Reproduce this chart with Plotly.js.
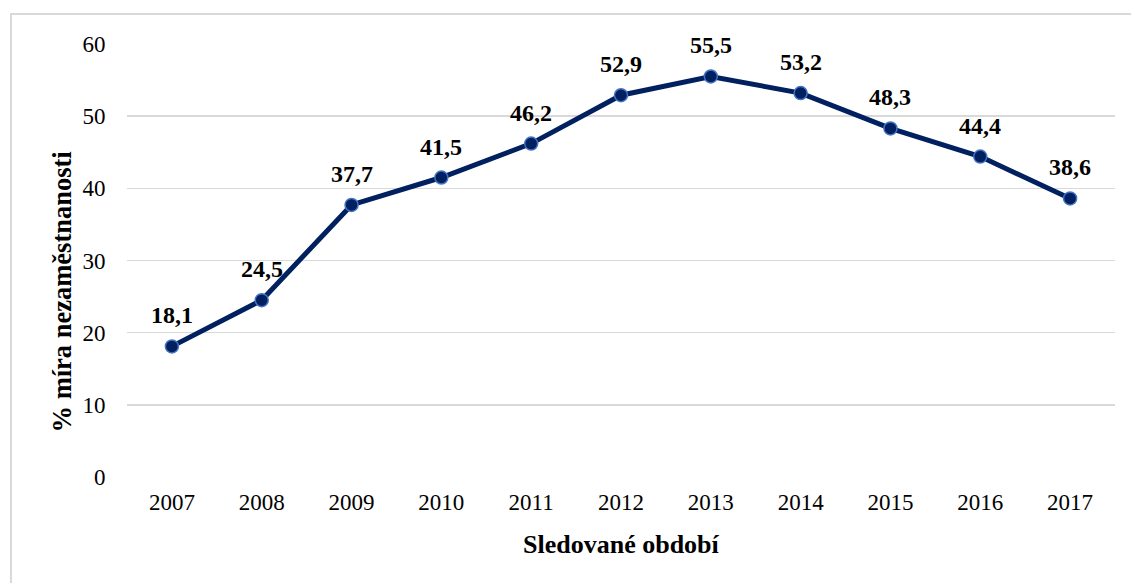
<!DOCTYPE html>
<html>
<head>
<meta charset="utf-8">
<script src="https://cdn.plot.ly/plotly-3.0.1.min.js"></script>
<style>
html,body{margin:0;padding:0;background:#fff;}
#wrap{position:relative;width:1131px;height:583px;overflow:hidden;}
#chart{position:absolute;left:0;top:0;width:1131px;height:583px;}
#frame{position:absolute;left:10px;top:13px;width:1200px;height:700px;border-left:2px solid #d9d9d9;border-top:2px solid #d9d9d9;pointer-events:none;}
</style>
</head>
<body>
<div id="wrap"><div id="chart"></div><div id="frame"></div></div>
<script>
const years = ['2007','2008','2009','2010','2011','2012','2013','2014','2015','2016','2017'];
const rates = [18.1, 24.5, 37.7, 41.5, 46.2, 52.9, 55.5, 53.2, 48.3, 44.4, 38.6];
const yTicks = [0, 10, 20, 30, 40, 50, 60];
const xTitle = 'Sledované období';
const yTitle = '% míra nezaměstnanosti';

const font = 'Liberation Serif, Times New Roman, serif';

const trace = {
  x: years, y: rates, type: 'scatter', mode: 'lines+markers',
  line: {color: '#002060', width: 5},
  marker: {size: 13, color: '#002060', line: {color: '#4472c4', width: 1.5}},
  cliponaxis: false, hoverinfo: 'skip'
};

// category axis: annotation x given as category index
const valueLabels = years.map((yr, i) => ({
  x: i, y: rates[i], xref: 'x', yref: 'y',
  text: '<b>' + rates[i].toFixed(1).replace('.', ',') + '</b>',
  showarrow: false, xanchor: 'center', yanchor: 'middle', yshift: 31,
  font: {family: font, size: 24, color: '#000'}
}));

const titles = [
  {text: '<b>' + xTitle + '</b>', xref: 'paper', yref: 'paper', x: 0.5, y: -0.156,
   xanchor: 'center', yanchor: 'middle', showarrow: false,
   font: {family: font, size: 26, color: '#000'}},
  {text: '<b>' + yTitle + '</b>', xref: 'paper', yref: 'paper', x: -0.066, y: 0.428,
   xanchor: 'center', yanchor: 'middle', showarrow: false, textangle: -90,
   font: {family: font, size: 26.5, color: '#000'}}
];

const layout = {
  width: 1131, height: 583,
  margin: {l: 127, r: 16, t: 44, b: 106},
  paper_bgcolor: '#fff', plot_bgcolor: '#fff',
  showlegend: false,
  font: {family: font, size: 23, color: '#000'},
  xaxis: {
    type: 'category', range: [-0.5, 10.5],
    showgrid: false, zeroline: false, showline: false,
    ticks: 'outside', ticklen: 4, tickcolor: 'rgba(0,0,0,0)',
    tickfont: {family: font, size: 23, color: '#000'}
  },
  yaxis: {
    range: [0, 60], tickvals: yTicks, ticktext: yTicks.map(String),
    showgrid: true, gridcolor: '#d9d9d9', gridwidth: 1.5,
    zeroline: false, showline: false,
    ticks: 'outside', ticklen: 16, tickcolor: 'rgba(0,0,0,0)',
    tickfont: {family: font, size: 23, color: '#000'}
  },
  annotations: valueLabels.concat(titles)
};

Plotly.newPlot('chart', [trace], layout, {displayModeBar: false, staticPlot: true});
</script>
</body>
</html>
